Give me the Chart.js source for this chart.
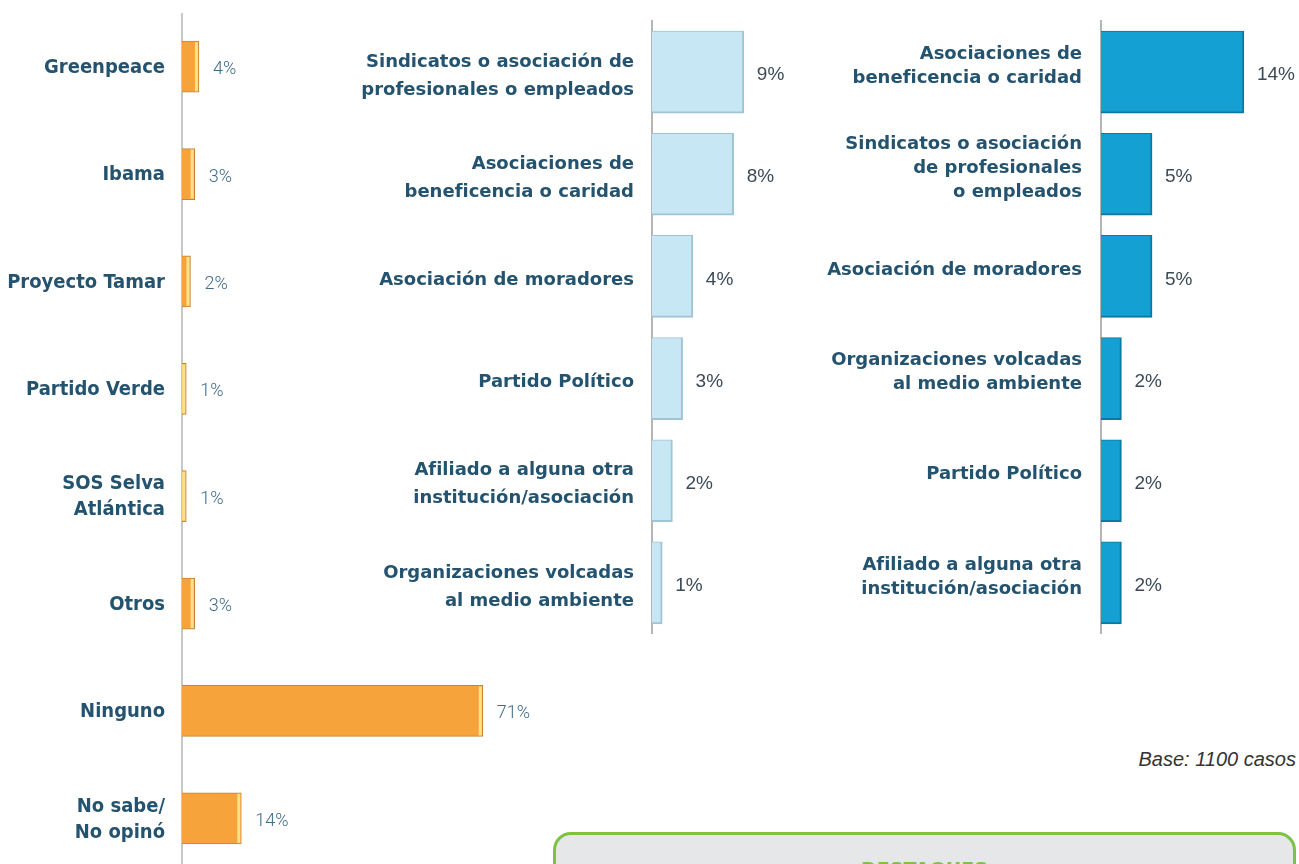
<!DOCTYPE html>
<html lang="es">
<head>
    <meta charset="UTF-8">
    <title>Participación en organizaciones</title>
    <script src="https://cdn.jsdelivr.net/npm/chart.js"></script>
    <style>
        html, body { margin: 0; padding: 0; background: #fff; width: 1299px; height: 864px; overflow: hidden; }
        canvas { position: absolute; }
        #base {
            position: absolute; right: 3px; top: 748px;
            font: italic 20px 'Liberation Sans', sans-serif; color: #333;
        }
        #destaques {
            position: absolute; left: 553px; top: 832px; width: 737px; height: 80px;
            border: 3px solid #7dc243; border-radius: 18px; background: #e6e7e8;
            text-align: center; box-sizing: content-box;
        }
        #destaques span {
            display: block; margin-top: 23px;
            font: bold 19px 'DejaVu Sans', sans-serif; color: #7dc243;
        }
    </style>
</head>
<body>
    <canvas id="leftChart" width="559" height="859" style="left:0;top:13px"></canvas>
    <canvas id="midChart" width="450" height="622" style="left:350px;top:12px"></canvas>
    <canvas id="rightChart" width="484" height="622" style="left:815px;top:12px"></canvas>
    <div id="base">Base: 1100 casos</div>
    <div id="destaques"><span>DESTAQUES</span></div>
    <script>
        // left: which environmental organisation
        const leftLabels = ['Greenpeace', 'Ibama', 'Proyecto Tamar', 'Partido Verde', ['SOS Selva', 'Atlántica'], 'Otros', 'Ninguno', ['No sabe/', 'No opinó']];
        const leftValues = [4, 3, 2, 1, 1, 3, 71, 14];

        // middle: membership
        const midLabels = [
            ['Sindicatos o asociación de', 'profesionales o empleados'],
            ['Asociaciones de', 'beneficencia o caridad'],
            'Asociación de moradores',
            'Partido Político',
            ['Afiliado a alguna otra', 'institución/asociación'],
            ['Organizaciones volcadas', 'al medio ambiente']
        ];
        const midValues = [9, 8, 4, 3, 2, 1];

        // right: participation
        const rightLabels = [
            ['Asociaciones de', 'beneficencia o caridad'],
            ['Sindicatos o asociación', 'de profesionales', 'o empleados'],
            'Asociación de moradores',
            ['Organizaciones volcadas', 'al medio ambiente'],
            'Partido Político',
            ['Afiliado a alguna otra', 'institución/asociación']
        ];
        const rightValues = [14, 5, 5, 2, 2, 2];

        // draws "n%" just after the end of each bar, plus optional light stripe at the bar end
        const valueLabels = {
            id: 'valueLabels',
            afterDatasetsDraw(chart, args, opts) {
                const ctx = chart.ctx;
                const values = chart.data.datasets[0].data;
                chart.getDatasetMeta(0).data.forEach((bar, i) => {
                    ctx.save();
                    if (opts.stripe) {
                        const h = bar.height;
                        ctx.fillStyle = opts.stripe;
                        ctx.fillRect(bar.x - 4, bar.y - h / 2 + 1, 3, h - 2);
                    }
                    ctx.font = opts.font;
                    ctx.fillStyle = opts.color;
                    ctx.textBaseline = 'middle';
                    ctx.fillText(values[i] + '%', bar.x + opts.gap, bar.y + opts.dy);
                    ctx.restore();
                });
            }
        };

        function makeChart(id, labels, values, o) {
            return new Chart(document.getElementById(id), {
                type: 'bar',
                data: {
                    labels: labels,
                    datasets: [{
                        data: values,
                        backgroundColor: o.fill,
                        borderColor: o.border,
                        borderWidth: o.borderWidth,
                        borderSkipped: 'start',
                        barThickness: o.thickness
                    }]
                },
                options: {
                    indexAxis: 'y',
                    responsive: false,
                    animation: false,
                    layout: { padding: { top: o.padTop } },
                    scales: {
                        x: { display: false, min: 0, max: o.max },
                        y: {
                            // fixed label column, and no extra vertical padding from the labels
                            afterFit: (scale) => {
                                scale.width = o.axisWidth;
                                scale.paddingTop = 0;
                                scale.paddingBottom = 0;
                            },
                            grid: { display: false, drawTicks: false },
                            border: { display: true, color: o.axisColor, width: 2 },
                            ticks: {
                                color: '#24536f',
                                padding: o.labelPad,
                                labelOffset: o.labelOffset,
                                font: o.labelFont
                            }
                        }
                    },
                    plugins: {
                        legend: { display: false },
                        tooltip: { enabled: false },
                        valueLabels: o.values
                    }
                },
                plugins: [valueLabels]
            });
        }

        makeChart('leftChart', leftLabels, leftValues, {
            fill: '#f7a33b', border: '#c6843a', borderWidth: 1, thickness: 51,
            padTop: 0, max: 89, axisWidth: 182, axisColor: '#c8c8c8',
            labelPad: 17, labelOffset: 1,
            labelFont: { family: "'DejaVu Sans Condensed', 'DejaVu Sans', sans-serif", weight: 'bold', size: 20, lineHeight: 1.3 },
            values: { font: "300 18px Roboto, sans-serif", color: '#3f6b87', gap: 14, dy: 3, stripe: '#fde28c' }
        });

        makeChart('midChart', midLabels, midValues, {
            fill: '#c8e7f4', border: '#9ec4d6', borderWidth: { top: 1, right: 2, bottom: 2, left: 0 }, thickness: 82,
            padTop: 9, max: 14.5, axisWidth: 302, axisColor: '#b5b5b5',
            labelPad: 18, labelOffset: 4,
            labelFont: { family: "'DejaVu Sans', sans-serif", weight: 'bold', size: 18, lineHeight: 1.55 },
            values: { font: "19px 'Liberation Sans', sans-serif", color: '#3c4a57', gap: 13, dy: 3 }
        });

        makeChart('rightChart', rightLabels, rightValues, {
            fill: '#15a0d3', border: '#0d78a3', borderWidth: { top: 1, right: 2, bottom: 2, left: 0 }, thickness: 82,
            padTop: 9, max: 19.4, axisWidth: 286, axisColor: '#b5b5b5',
            labelPad: 19, labelOffset: -6,
            labelFont: { family: "'DejaVu Sans', sans-serif", weight: 'bold', size: 18, lineHeight: 1.33 },
            values: { font: "19px 'Liberation Sans', sans-serif", color: '#3c4a57', gap: 13, dy: 3 }
        });
    </script>
</body>
</html>
